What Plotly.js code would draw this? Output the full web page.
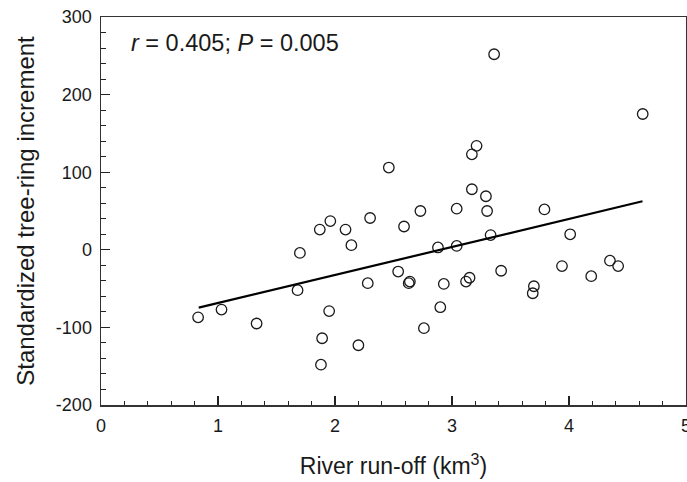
<!DOCTYPE html>
<html>
<head>
<meta charset="utf-8">
<script src="https://cdn.plot.ly/plotly-3.0.1.min.js"></script>
<style>html,body{margin:0;padding:0;background:#fff;}#chart{width:687px;height:482px;}</style>
</head>
<body>
<div id="chart"></div>
<script>
// River run-off (km^3) values
const runoff = [0.83, 1.03, 1.33, 1.68, 1.70, 1.87, 1.96, 2.09, 2.14, 2.30,
  2.28, 1.95, 1.89, 2.20, 1.88, 2.73, 3.04, 3.30, 3.79, 2.59,
  2.88, 3.04, 3.33, 4.01, 2.54, 2.64, 2.63, 2.93, 3.12, 3.15,
  3.42, 3.70, 3.69, 3.94, 4.19, 4.35, 4.42, 2.90, 2.76, 3.36,
  4.63, 3.21, 3.17, 2.46, 3.17, 3.29];
// Standardized tree-ring increment values
const increment = [-87, -77, -95, -52, -4, 26, 37, 26, 6, 41,
  -43, -79, -114, -123, -148, 50, 53, 50, 52, 30,
  3, 5, 19, 20, -28, -41, -43, -44, -41, -36,
  -27, -47, -56, -21, -34, -14, -21, -74, -101, 252,
  175, 134, 123, 106, 78, 69];
// Regression line end points
const fitX = [0.835, 4.628];
const fitY = [-74.5, 62.5];
// Tick labels
const xTickVals = [0, 1, 2, 3, 4, 5];
const xTickText = ['0', '1', '2', '3', '4', '5'];
const yTickVals = [-200, -100, 0, 100, 200, 300];
const yTickText = ['-200', '-100', '0', '100', '200', '300'];

const FONT = '"Liberation Sans", Arial, sans-serif';
const INK = '#1a1a1a';

const traces = [
  {
    x: runoff, y: increment, type: 'scatter', mode: 'markers',
    marker: {symbol: 'circle-open', size: 10.5, color: INK, line: {width: 1.3, color: INK}},
    hoverinfo: 'x+y', showlegend: false
  },
  {
    x: fitX, y: fitY, type: 'scatter', mode: 'lines',
    line: {color: '#000', width: 2.2}, hoverinfo: 'skip', showlegend: false
  }
];

const axisCommon = {
  showgrid: false, zeroline: false, showline: true, mirror: true,
  linecolor: '#333', linewidth: 1.5,
  ticks: 'inside', ticklen: 9, tickwidth: 1.2, tickcolor: '#222',
  tickfont: {family: FONT, size: 18, color: INK}
};

const layout = {
  width: 687, height: 482,
  margin: {l: 101, r: 1, t: 17, b: 77},
  paper_bgcolor: '#fff', plot_bgcolor: '#fff',
  font: {family: FONT, color: INK},
  xaxis: Object.assign({}, axisCommon, {
    range: [0, 5], tickmode: 'array', tickvals: xTickVals, ticktext: xTickText,
    ticklabelstandoff: 4, ticklabeloverflow: 'allow',
    minor: {dtick: 0.2, ticks: 'inside', ticklen: 4.5, tickwidth: 1, tickcolor: '#222', showgrid: false},
    title: {text: 'River run-off (km<sup>3</sup>)', font: {family: FONT, size: 23, color: INK}, standoff: 23}
  }),
  yaxis: Object.assign({}, axisCommon, {
    range: [-200, 300], tickmode: 'array', tickvals: yTickVals, ticktext: yTickText,
    ticklabelstandoff: 4,
    minor: {dtick: 20, ticks: 'inside', ticklen: 4.5, tickwidth: 1, tickcolor: '#222', showgrid: false},
    title: {text: 'Standardized tree-ring increment', font: {family: FONT, size: 24, color: INK}, standoff: 14}
  }),
  annotations: [{
    x: 0.24, y: 266, xref: 'x', yref: 'y', xanchor: 'left', yanchor: 'middle',
    text: '<i>r</i> = 0.405; <i>P</i> = 0.005', showarrow: false,
    font: {family: FONT, size: 23.5, color: INK}
  }]
};

Plotly.newPlot('chart', traces, layout, {displayModeBar: false, staticPlot: true});
</script>
</body>
</html>
